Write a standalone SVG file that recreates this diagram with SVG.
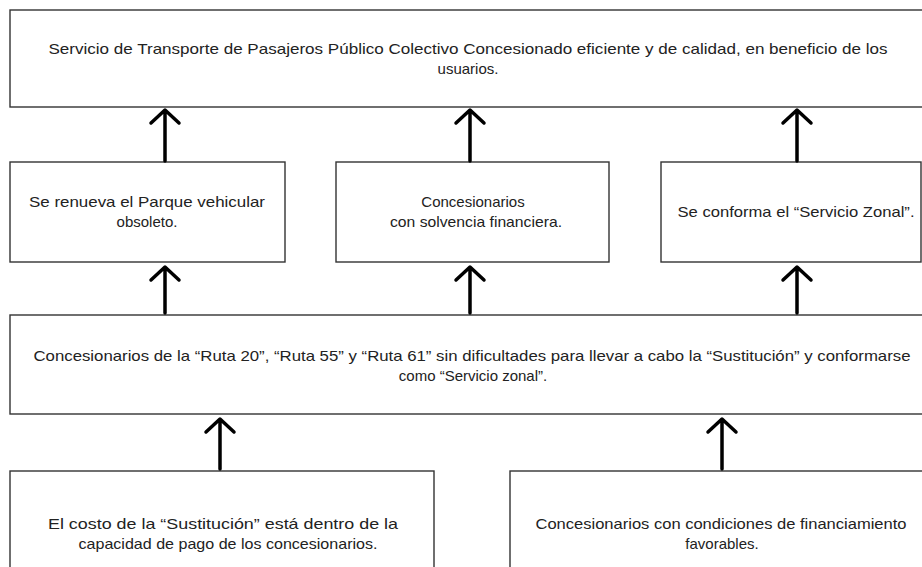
<svg xmlns="http://www.w3.org/2000/svg" width="922" height="567" viewBox="0 0 922 567">
<style>
.box{fill:#fff;stroke:#333;stroke-width:1.4}
.t{font-family:"Liberation Sans",Arial,sans-serif;font-size:15px;fill:#222;text-anchor:middle}
.arr{fill:none;stroke:#000;stroke-width:3.5;stroke-linecap:round;stroke-linejoin:round}
</style>
<rect width="922" height="567" fill="#fff"/>
<g id="n_top">
<rect class="box" x="10" y="10" width="930" height="97"/>
<text class="t" x="468" y="54" textLength="839" lengthAdjust="spacingAndGlyphs">Servicio de Transporte  de Pasajeros Público Colectivo Concesionado eficiente y de calidad, en beneficio de los</text>
<text class="t" x="468" y="74">usuarios.</text>
</g>
<g id="n_parque">
<rect class="box" x="10" y="162" width="275" height="100"/>
<text class="t" x="147" y="207" textLength="236" lengthAdjust="spacingAndGlyphs">Se renueva  el Parque vehicular</text>
<text class="t" x="147" y="227">obsoleto.</text>
</g>
<g id="n_solvencia">
<rect class="box" x="336" y="162" width="273" height="100"/>
<text class="t" x="473" y="207">Concesionarios</text>
<text class="t" x="476" y="227" textLength="172" lengthAdjust="spacingAndGlyphs">con solvencia financiera.</text>
</g>
<g id="n_zonal">
<rect class="box" x="661" y="162" width="260" height="100"/>
<text class="t" x="796" y="217" textLength="237" lengthAdjust="spacingAndGlyphs">Se conforma  el “Servicio Zonal”.</text>
</g>
<g id="n_concesionarios">
<rect class="box" x="10" y="315" width="930" height="99"/>
<text class="t" x="472" y="361" textLength="877" lengthAdjust="spacingAndGlyphs">Concesionarios de la “Ruta  20”, “Ruta 55” y “Ruta  61” sin dificultades para llevar  a cabo la “Sustitución” y conformarse</text>
<text class="t" x="473" y="381">como “Servicio zonal”.</text>
</g>
<g id="n_costo">
<rect class="box" x="10" y="471" width="424" height="110"/>
<text class="t" x="223" y="529" textLength="350" lengthAdjust="spacingAndGlyphs">El costo de la “Sustitución” está dentro de la</text>
<text class="t" x="228" y="549" textLength="299" lengthAdjust="spacingAndGlyphs">capacidad de pago de los concesionarios.</text>
</g>
<g id="n_financiamiento">
<rect class="box" x="510" y="471" width="430" height="110"/>
<text class="t" x="721" y="529" textLength="371" lengthAdjust="spacingAndGlyphs">Concesionarios con condiciones de financiamiento</text>
<text class="t" x="722" y="549">favorables.</text>
</g>
<g id="connectors">
<path class="arr" d="M165 161V111M151 123L165 110L179 123"/>
<path class="arr" d="M470 161V111M456 123L470 110L484 123"/>
<path class="arr" d="M797 161V111M783 123L797 110L811 123"/>
<path class="arr" d="M165 313V268M151 280L165 267L179 280"/>
<path class="arr" d="M470 313V268M456 280L470 267L484 280"/>
<path class="arr" d="M797 313V268M783 280L797 267L811 280"/>
<path class="arr" d="M220 469V420M206 432L220 419L234 432"/>
<path class="arr" d="M722 469V420M708 432L722 419L736 432"/>
</g>
</svg>
